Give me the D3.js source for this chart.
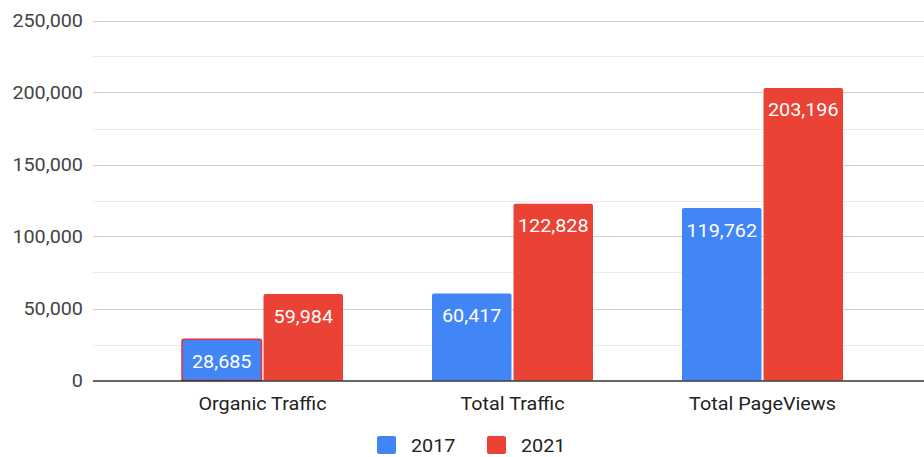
<!DOCTYPE html>
<html>
<head>
<meta charset="utf-8">
<script src="https://cdn.jsdelivr.net/npm/d3@7"></script>
<style>
  body { margin: 0; background: #fff; }
  text { font-family: Roboto, Arial, sans-serif; }
</style>
</head>
<body>
<svg id="chart" width="924" height="457"></svg>
<script>
// data
const categories = ["Organic Traffic", "Total Traffic", "Total PageViews"];
const seriesNames = ["2017", "2021"];
const values2017 = [28685, 60417, 119762];
const values2021 = [59984, 122828, 203196];
const yTicks = [0, 50000, 100000, 150000, 200000, 250000];
const colors = ["#4285F4", "#EA4335"];

const width = 924, height = 457;
const hs = 1.1; // text in the source is a little wide
const svg = d3.select("#chart");

const x = d3.scaleBand().domain(categories).range([137.5, 887.5]);
const groupW = 161;
const xs = d3.scaleBand().domain(seriesNames).range([0, groupW]).paddingInner(0.025);
const y = d3.scaleLinear().domain([0, 250000]).range([380.5, 20.5]);
const fmt = d3.format(",");

function place(px, py) { return `translate(${px},${py}) scale(${hs},1)`; }

// gridlines (minor then major)
const minor = d3.range(25000, 250000, 50000);
svg.append("g").selectAll("line").data(minor).join("line")
    .attr("x1", 93).attr("x2", width)
    .attr("y1", d => Math.round(y(d)) + 0.5).attr("y2", d => Math.round(y(d)) + 0.5)
    .attr("stroke", "#ebebeb");
svg.append("g").selectAll("line").data(yTicks.slice(1)).join("line")
    .attr("x1", 93).attr("x2", width)
    .attr("y1", d => Math.round(y(d)) + 0.5).attr("y2", d => Math.round(y(d)) + 0.5)
    .attr("stroke", "#d0d0d0");

// y axis labels
svg.append("g").selectAll("text").data(yTicks).join("text")
    .attr("transform", d => place(83, y(d) + 6.5))
    .attr("text-anchor", "end")
    .attr("font-size", 18).attr("fill", "#444")
    .text(d => fmt(d));

// bars
const rows = categories.map((c, i) => ({cat: c, vals: [values2017[i], values2021[i]]}));
const groups = svg.append("g").selectAll("g").data(rows).join("g")
    .attr("transform", d => `translate(${x(d.cat) + x.bandwidth() / 2 - groupW / 2},0)`);

function barPath(x0, w, top, bottom, r) {
  return `M${x0},${bottom}V${top + r}Q${x0},${top} ${x0 + r},${top}H${x0 + w - r}Q${x0 + w},${top} ${x0 + w},${top + r}V${bottom}Z`;
}

groups.each(function(d, gi) {
  const g = d3.select(this);
  d.vals.forEach((v, si) => {
    const bx = xs(seriesNames[si]);
    const bw = xs.bandwidth();
    const top = y(v);
    const outlined = gi === 0 && si === 0;
    g.append("path")
      .attr("d", barPath(bx, bw, top, y(0), 2))
      .attr("fill", colors[si])
      .attr("stroke", outlined ? "#e8303f" : "none")
      .attr("stroke-width", outlined ? 1.5 : 0);
    g.append("text")
      .attr("transform", place(bx + bw / 2, top + 28.5))
      .attr("text-anchor", "middle")
      .attr("font-size", 18).attr("fill", "#fff")
      .text(fmt(v));
  });
});

// baseline
svg.append("line")
    .attr("x1", 93).attr("x2", width)
    .attr("y1", 381).attr("y2", 381)
    .attr("stroke", "#333").attr("stroke-width", 1.5);

// category labels
svg.append("g").selectAll("text").data(categories).join("text")
    .attr("transform", d => place(x(d) + x.bandwidth() / 2, 409.5))
    .attr("text-anchor", "middle")
    .attr("font-size", 18).attr("fill", "#222")
    .text(d => d);

// legend
const legendX = [377, 487];
const legend = svg.append("g").selectAll("g").data(seriesNames).join("g")
    .attr("transform", (d, i) => `translate(${legendX[i]},436)`);
legend.append("rect")
    .attr("width", 19).attr("height", 18).attr("rx", 2)
    .attr("fill", (d, i) => colors[i]);
legend.append("text")
    .attr("transform", place(34, 16))
    .attr("font-size", 18).attr("fill", "#222")
    .text(d => d);
</script>
</body>
</html>
